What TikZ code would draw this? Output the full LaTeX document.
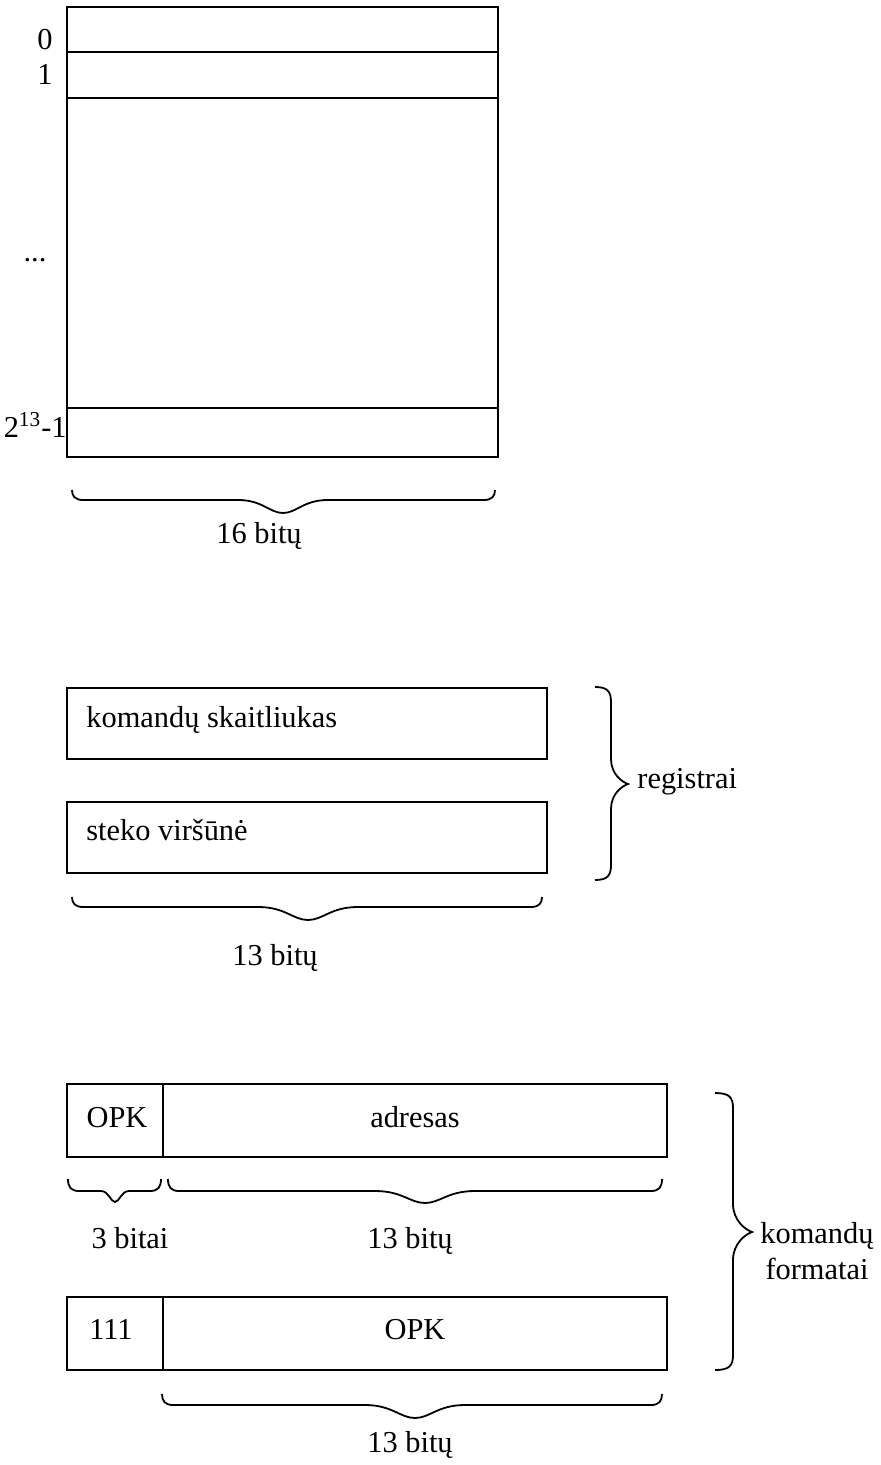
\documentclass[tikz,border=0pt]{standalone}
\usepackage{fontspec}
\setmainfont{Liberation Serif}
% horizontal brace: x1 x2 tipx ytop yline ytip halfwidth
\newcommand\myhbrace[7]{%
  \draw[brc] (#1,#4) .. controls (#1,#5-4) and (#1+3,#5) .. (#1+11,#5)
    -- (#3-#7,#5) .. controls (#3-#7*0.45,#5) and (#3-#7*0.3,#6) .. (#3,#6)
    .. controls (#3+#7*0.3,#6) and (#3+#7*0.45,#5) .. (#3+#7,#5)
    -- (#2-11,#5) .. controls (#2-3,#5) and (#2,#5-4) .. (#2,#4);}
% vertical brace: y1 y2 tipy xend xline xtip halfheight
\newcommand\myvbrace[7]{%
  \draw[brc] (#4,#1) .. controls (#5-4,#1) and (#5,#1+4) .. (#5,#1+15)
    -- (#5,#3-#7) .. controls (#5,#3-#7*0.4) and (#6-6,#3-2) .. (#6,#3)
    .. controls (#6-6,#3+2) and (#5,#3+#7*0.4) .. (#5,#3+#7)
    -- (#5,#2-15) .. controls (#5,#2-4) and (#5-4,#2) .. (#4,#2);}
\begin{document}
\begin{tikzpicture}[x=0.5pt,y=-0.5pt,
  box/.style={draw,line width=1pt},
  brc/.style={line width=0.9pt},
  lbl/.style={inner sep=0pt,font=\fontsize{15.2}{18}\selectfont}]
\useasboundingbox (0,0) rectangle (881,1465);
% memory
\draw[box] (67,7) rectangle (498,457);
\draw[box] (67,52) -- (498,52);
\draw[box] (67,98) -- (498,98);
\draw[box] (67,408) -- (498,408);
\node[lbl,anchor=base] (l0) at (45,50) {0};
\node[lbl,anchor=base] (l1) at (45,85) {1};
\node[lbl,anchor=base] (ldots) at (35,262) {...};
\node[lbl,anchor=base east] (lmax) at (67,437) {2\textsuperscript{13}-1};
\myhbrace{72}{495}{283}{490}{500}{513}{45}
\node[lbl,anchor=base] (b16) at (259,543) {16 bitų};
% registers
\draw[box] (67,688) rectangle (547,759);
\draw[box] (67,802) rectangle (547,873);
\node[lbl,anchor=base west] (pc) at (86,727) {komandų skaitliukas};
\node[lbl,anchor=base west] (sp) at (86,840) {steko viršūnė};
\myvbrace{687}{880}{784}{595}{611}{628}{25}
\node[lbl,anchor=base west] (reg) at (637,788) {registrai};
\myhbrace{72}{542}{308}{897}{907}{920}{50}
\node[lbl,anchor=base] (b13a) at (275,965) {13 bitų};
% command formats
\draw[box] (67,1084) rectangle (667,1157);
\draw[box] (163,1084) -- (163,1157);
\node[lbl,anchor=base] (opk1) at (117,1127) {OPK};
\node[lbl,anchor=base] (adr) at (415,1127) {adresas};
\myhbrace{68}{161}{115}{1179}{1191}{1202}{14}
\myhbrace{168}{662}{425}{1179}{1191}{1203}{50}
\node[lbl,anchor=base] (b3) at (130,1248) {3 bitai};
\node[lbl,anchor=base] (b13b) at (410,1248) {13 bitų};
\draw[box] (67,1297) rectangle (667,1370);
\draw[box] (163,1297) -- (163,1370);
\node[lbl,anchor=base] (c111) at (111,1339) {111};
\node[lbl,anchor=base] (opk2) at (415,1339) {OPK};
\myvbrace{1093}{1370}{1232}{715}{733}{752}{28}
\node[lbl,align=center,anchor=north] (fmt) at (817,1222) {komandų\\formatai};
\myhbrace{162}{662}{415}{1394}{1405}{1418}{50}
\node[lbl,anchor=base] (b13c) at (410,1452) {13 bitų};
\end{tikzpicture}
\end{document}
